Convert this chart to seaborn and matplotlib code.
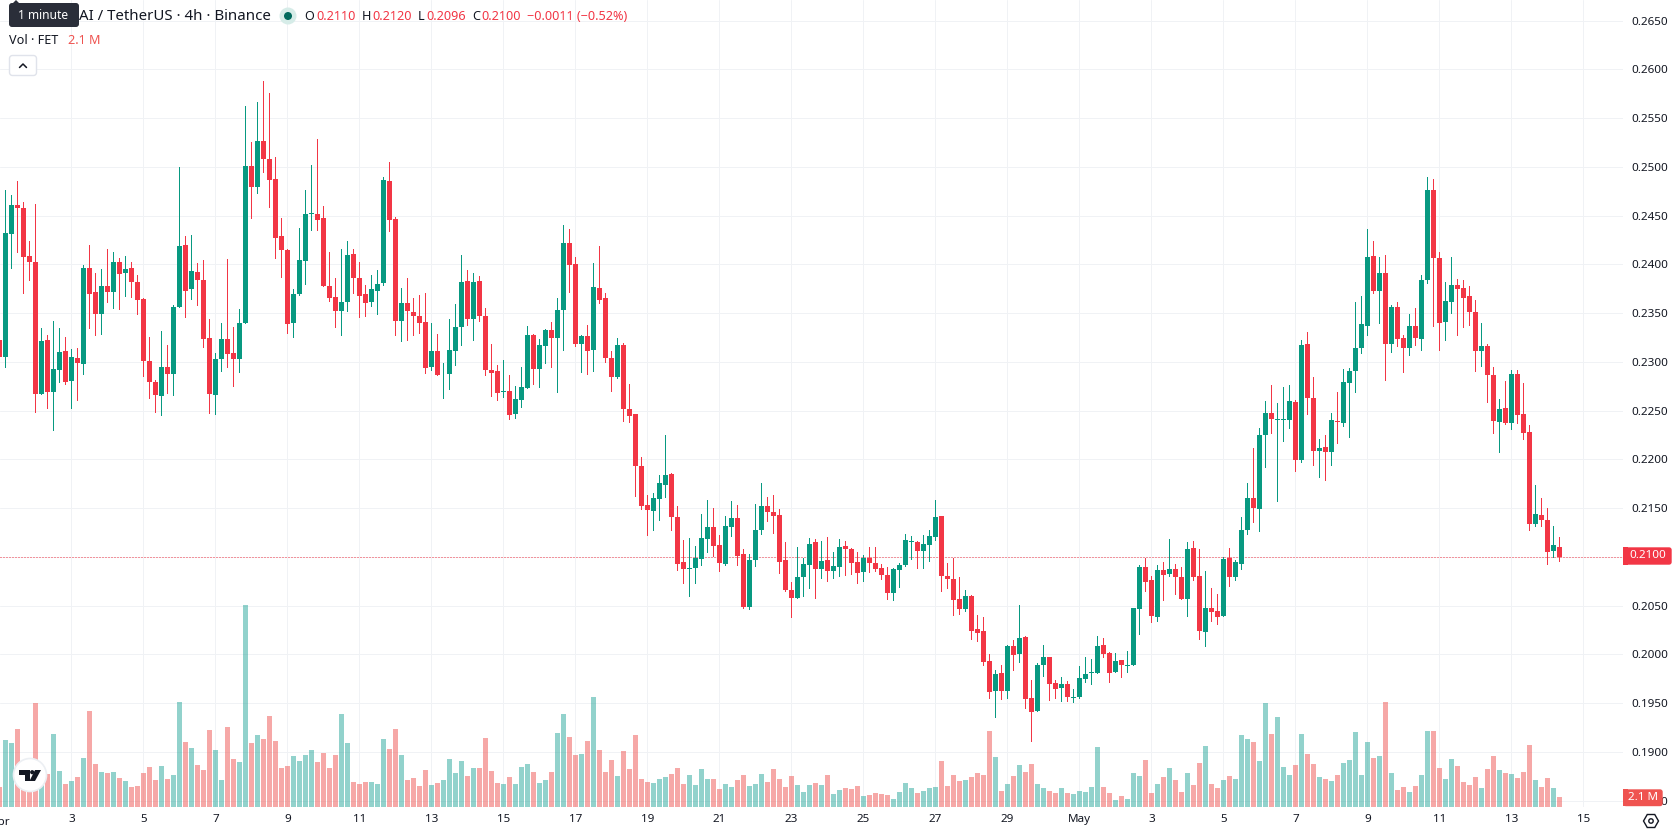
import matplotlib
matplotlib.use("Agg")
import matplotlib.pyplot as plt
from matplotlib.patches import Circle, FancyBboxPatch, Polygon, Rectangle, RegularPolygon
import numpy as np
import pandas as pd
import seaborn as sns

# FET/USDT 4h candles, quoted in ticks of 0.0001
open_ticks = [
    2322,2305,2431,2461,2458,2409,2402,2267,2322,2269,
    2292,2311,2280,2304,2298,2396,2372,2349,2378,2372,
    2402,2391,2396,2382,2364,2301,2279,2265,2295,2288,
    2356,2420,2375,2392,2384,2324,2266,2303,2323,2309,
    2303,2340,2501,2479,2526,2508,2488,2429,2415,2340,
    2370,2403,2452,2452,2447,2378,2366,2352,2361,2411,
    2386,2370,2361,2373,2381,2485,2446,2342,2360,2351,
    2347,2341,2295,2311,2287,2287,2311,2336,2383,2344,
    2383,2347,2292,2291,2269,2270,2246,2261,2273,2327,
    2293,2316,2333,2324,2353,2422,2400,2318,2326,2312,
    2376,2365,2304,2284,2317,2252,2246,2193,2153,2147,
    2159,2174,2185,2141,2095,2088,2089,2098,2118,2131,
    2112,2093,2131,2140,2103,2049,2097,2127,2152,2146,
    2143,2097,2066,2058,2079,2092,2115,2087,2097,2085,
    2090,2111,2108,2095,2084,2099,2094,2089,2081,2063,
    2086,2092,2115,2115,2106,2112,2120,2142,2080,2077,
    2057,2046,2060,2026,2024,1993,1962,1981,1962,2009,
    2000,2018,1955,1942,1989,1997,1971,1965,1970,1955,
    1956,1975,1981,1981,2010,2001,1982,1994,1988,1989,
    2046,2090,2076,2038,2086,2082,2087,2079,2057,2109,
    2080,2023,2048,2044,2039,2099,2079,2093,2127,2160,
    2149,2225,2248,2240,2240,2240,2259,2199,2318,2263,
    2209,2213,2208,2239,2237,2278,2291,2314,2337,2409,
    2373,2391,2318,2356,2324,2314,2337,2323,2384,2476,
    2406,2341,2361,2379,2376,2367,2351,2311,2316,2286,
    2238,2253,2237,2288,2246,2228,2134,2143,2138,2106,
    2110,
]
high_ticks = [
    2330,2476,2471,2485,2464,2424,2462,2335,2327,2342,
    2335,2325,2313,2314,2399,2420,2391,2395,2416,2413,
    2406,2409,2402,2389,2365,2325,2281,2332,2317,2358,
    2500,2429,2430,2401,2404,2344,2309,2340,2405,2336,
    2354,2562,2525,2566,2588,2576,2510,2447,2416,2375,
    2437,2476,2502,2529,2460,2413,2386,2416,2424,2416,
    2402,2379,2389,2394,2490,2505,2449,2376,2386,2365,
    2369,2371,2340,2329,2299,2344,2359,2410,2394,2391,
    2388,2355,2318,2297,2302,2286,2275,2295,2337,2329,
    2323,2334,2341,2365,2440,2436,2408,2327,2338,2401,
    2419,2371,2311,2324,2319,2277,2246,2202,2163,2165,
    2184,2225,2186,2152,2117,2119,2111,2144,2158,2150,
    2122,2142,2157,2153,2108,2103,2154,2176,2161,2163,
    2149,2115,2074,2110,2099,2119,2118,2116,2120,2105,
    2118,2116,2109,2105,2102,2110,2110,2093,2090,2089,
    2094,2123,2121,2116,2122,2127,2158,2142,2094,2099,
    2079,2066,2061,2040,2038,2000,1984,1989,2010,2015,
    2051,2019,1974,1991,2010,1997,1974,1977,1973,1964,
    1988,1997,1995,2019,2017,2002,2001,1994,2003,2048,
    2092,2099,2080,2092,2095,2118,2093,2090,2115,2116,
    2108,2085,2068,2062,2100,2109,2097,2141,2176,2212,
    2232,2260,2276,2258,2274,2276,2261,2322,2331,2284,
    2221,2225,2247,2269,2293,2294,2361,2368,2436,2424,
    2408,2410,2358,2361,2328,2349,2355,2389,2490,2487,
    2413,2382,2407,2385,2384,2378,2363,2340,2318,2295,
    2262,2280,2292,2292,2278,2235,2174,2160,2150,2132,
    2120,
]
low_ticks = [
    2298,2295,2396,2413,2371,2384,2249,2267,2253,2230,
    2279,2277,2253,2261,2287,2335,2327,2329,2361,2355,
    2354,2367,2366,2349,2285,2263,2249,2245,2268,2266,
    2356,2346,2364,2358,2315,2247,2246,2291,2295,2275,
    2290,2340,2447,2473,2495,2459,2406,2387,2330,2325,
    2369,2380,2435,2435,2378,2362,2336,2327,2352,2371,
    2346,2347,2357,2349,2379,2434,2327,2321,2322,2328,
    2330,2289,2292,2286,2263,2272,2297,2317,2338,2322,
    2342,2286,2265,2261,2264,2241,2242,2254,2273,2277,
    2274,2299,2295,2269,2312,2372,2316,2290,2288,2291,
    2360,2300,2270,2283,2239,2238,2162,2149,2122,2127,
    2138,2161,2128,2086,2073,2060,2073,2092,2105,2101,
    2085,2092,2121,2092,2047,2046,2091,2123,2137,2124,
    2083,2065,2038,2058,2060,2068,2058,2078,2075,2078,
    2080,2081,2082,2073,2075,2084,2085,2077,2057,2056,
    2069,2091,2098,2089,2089,2096,2117,2065,2068,2040,
    2041,2044,2016,2014,1989,1955,1936,1954,1955,1984,
    1992,1945,1911,1942,1978,1953,1955,1952,1952,1951,
    1955,1972,1970,1981,1997,1972,1982,1977,1982,1989,
    2021,2065,2033,2034,2056,2080,2062,2057,2039,2076,
    2016,2009,2034,2031,2039,2070,2076,2087,2123,2136,
    2126,2192,2227,2157,2219,2232,2188,2197,2246,2194,
    2182,2179,2194,2217,2234,2223,2269,2309,2327,2371,
    2340,2281,2310,2316,2290,2307,2317,2312,2381,2337,
    2312,2322,2350,2327,2336,2338,2291,2296,2259,2227,
    2207,2236,2231,2237,2221,2128,2132,2132,2093,2100,
    2096,
]
close_ticks = [
    2305,2432,2461,2458,2408,2402,2267,2321,2269,2293,
    2310,2279,2305,2299,2396,2370,2349,2378,2372,2402,
    2390,2395,2382,2363,2301,2279,2266,2295,2288,2356,
    2419,2373,2393,2384,2323,2267,2303,2323,2308,2303,
    2340,2501,2479,2526,2508,2486,2427,2415,2339,2370,
    2404,2452,2453,2445,2378,2365,2352,2361,2410,2386,
    2368,2360,2375,2380,2486,2445,2342,2360,2352,2347,
    2340,2294,2311,2286,2288,2312,2336,2382,2344,2382,
    2347,2292,2289,2268,2270,2245,2262,2274,2327,2293,
    2317,2333,2324,2353,2422,2399,2318,2326,2311,2377,
    2363,2304,2284,2317,2252,2244,2193,2152,2148,2160,
    2176,2184,2141,2093,2088,2089,2099,2119,2131,2111,
    2094,2132,2140,2101,2049,2097,2128,2152,2146,2142,
    2095,2066,2058,2079,2093,2113,2087,2096,2085,2091,
    2110,2108,2094,2083,2099,2094,2088,2081,2063,2088,
    2092,2117,2116,2106,2113,2121,2141,2080,2077,2056,
    2046,2060,2024,2022,1992,1961,1980,1962,2009,1999,
    2017,1954,1941,1989,1997,1970,1964,1970,1956,1956,
    1976,1980,1982,2009,2000,1981,1993,1989,1989,2047,
    2090,2074,2039,2086,2081,2087,2079,2057,2108,2079,
    2024,2048,2043,2038,2098,2079,2095,2127,2160,2150,
    2225,2248,2241,2241,2241,2260,2199,2317,2263,2209,
    2212,2207,2240,2238,2279,2291,2314,2339,2408,2373,
    2391,2318,2356,2323,2314,2337,2324,2384,2476,2406,
    2340,2362,2379,2375,2365,2351,2311,2316,2286,2239,
    2252,2237,2288,2245,2227,2134,2144,2138,2105,2112,
    2100,
]
# Traded volume per candle, in millions of FET
volume_m = [
    4.2,14.1,13.4,16.4,5.6,4.9,21.8,5.6,6.9,15.3,
    7.6,4.8,5.5,6.3,10.3,20.2,9.0,7.4,7.1,7.4,
    6.1,5.5,4.2,4.4,7.1,8.4,5.7,8.6,5.9,6.7,
    22.1,13.7,12.4,8.8,7.8,16.2,12.0,5.7,16.8,10.1,
    9.5,42.4,13.4,15.1,14.3,19.1,13.9,8.2,8.6,10.7,
    9.7,10.9,12.0,9.5,11.3,8.2,10.9,19.5,13.4,5.3,
    4.8,5.3,5.3,4.8,14.3,12.2,16.4,10.9,5.7,6.1,
    4.4,7.8,4.6,5.0,5.7,10.1,7.1,9.7,6.5,8.2,
    8.2,14.5,7.6,5.0,4.8,6.3,4.8,8.4,9.0,7.4,
    5.0,5.7,7.4,15.5,19.5,14.7,10.9,11.1,13.9,23.1,
    12.0,7.4,9.9,6.5,11.8,8.0,15.1,5.9,5.3,5.0,
    5.9,6.3,6.9,8.2,4.8,6.7,4.6,8.0,5.9,5.9,
    3.8,4.8,4.2,5.7,6.7,4.4,4.8,6.9,5.3,8.0,
    5.9,4.2,6.5,4.6,3.2,4.6,5.0,4.6,6.7,2.7,
    3.6,4.0,3.8,4.4,2.3,2.5,2.9,2.7,2.5,1.7,
    3.2,5.0,4.0,2.9,3.4,4.0,4.2,9.7,4.4,6.7,
    5.5,5.7,6.3,7.1,6.7,16.0,10.5,3.4,4.8,6.5,
    8.8,7.4,9.0,4.8,4.0,3.4,2.9,4.0,2.9,2.7,
    3.4,3.2,4.2,12.6,4.2,2.9,1.5,2.3,1.7,7.1,
    6.5,9.9,2.9,4.8,6.3,8.2,5.7,3.2,7.1,4.6,
    9.2,12.8,4.8,4.0,5.7,6.5,5.9,15.1,14.3,13.7,
    9.7,21.8,15.3,18.9,8.4,6.7,8.8,15.3,11.1,9.0,
    6.3,5.9,5.5,6.7,9.2,9.9,15.8,6.7,13.7,10.3,
    10.7,22.1,7.1,3.6,4.2,3.2,4.4,6.7,16.0,16.0,
    8.2,5.9,10.1,8.6,5.3,4.6,6.3,4.0,8.0,10.7,
    7.8,7.1,6.9,6.1,7.4,13.0,5.7,4.2,6.1,4.0,
    2.1,
]
# Date axis: one label every 12 candles (two days), starting at 3 April
date_tick_candles = [12, 24, 36, 48, 60, 72, 84, 96, 108, 120, 132, 144, 156, 168,
                     180, 192, 204, 216, 228, 240, 252, 264]
date_tick_labels = ["3", "5", "7", "9", "11", "13", "15", "17", "19", "21", "23", "25",
                    "27", "29", "May", "3", "5", "7", "9", "11", "13", "15"]
price_ticks = [0.2650, 0.2600, 0.2550, 0.2500, 0.2450, 0.2400, 0.2350, 0.2300, 0.2250,
               0.2200, 0.2150, 0.2100, 0.2050, 0.2000, 0.1950, 0.1900, 0.1850]
last_price = 0.2100

TICK = 0.0001
UP, DOWN = "#089981", "#f23645"
VOL_UP, VOL_DOWN = "#26a69a", "#ef5350"
GRID = "#f0f2f5"
INK = "#131722"

sns.set_theme(style="white")
plt.rcParams["font.family"] = ["Noto Sans", "DejaVu Sans"]

candles = pd.DataFrame({
    "candle": np.arange(len(open_ticks)),
    "open": np.array(open_ticks) * TICK,
    "high": np.array(high_ticks) * TICK,
    "low": np.array(low_ticks) * TICK,
    "close": np.array(close_ticks) * TICK,
    "volume": volume_m,
})
candles["rising"] = candles["close"] >= candles["open"]
candle_colors = np.where(candles["rising"], UP, DOWN)

W, H = 1678, 835
PANE_RIGHT, PANE_BOTTOM = 1623, 807
fig = plt.figure(figsize=(W / 100, H / 100), dpi=100, facecolor="white")
pane = [0, (H - PANE_BOTTOM) / H, PANE_RIGHT / W, PANE_BOTTOM / H]

# Price pane: grid, ticks and candles
ax = fig.add_axes(pane, zorder=1)
ax.set_facecolor("white")
ax.set_xlim(0.1, 270.6)
ax.set_ylim(0.18434, 0.26711)
ax.set_axisbelow(True)
ax.grid(True, color=GRID, lw=0.72)
for side in ax.spines.values():
    side.set_visible(False)
ax.yaxis.tick_right()
ax.set_yticks(price_ticks)
ax.set_yticklabels([f"{p:.4f}" for p in price_ticks], fontsize=8.4, color=INK)
ax.set_xticks(date_tick_candles)
labels = ax.set_xticklabels(date_tick_labels, fontsize=8.4, color=INK)
labels[date_tick_labels.index("May")].set_fontweight("bold")
ax.tick_params(axis="both", length=0)
ax.tick_params(axis="y", pad=6.2)
ax.tick_params(axis="x", pad=5.2)

# Dotted marker for the last traded price, one pixel on and two off
ax.axhline(last_price, color=DOWN, lw=0.72, ls=(0, (1, 2)), zorder=1.5, snap=True)
ax.vlines(candles["candle"], candles["low"], candles["high"], colors=candle_colors,
          lw=0.72, zorder=2, antialiased=False)
ax.bar(candles["candle"], (candles["close"] - candles["open"]).abs(),
       bottom=candles[["open", "close"]].min(axis=1), width=0.82, color=candle_colors,
       linewidth=0, zorder=3, antialiased=False)

# Volume pane shares the box; the scale keeps the largest bar a quarter of the height
ax_vol = fig.add_axes(pane, zorder=2)
ax_vol.patch.set_alpha(0)
sns.barplot(data=candles, x="candle", y="volume", hue="rising", dodge=False, native_scale=True,
            palette={True: VOL_UP, False: VOL_DOWN}, alpha=0.5, saturation=1, width=0.82,
            errorbar=None, legend=False, linewidth=0, ax=ax_vol)
ax_vol.set_xlim(0.1, 270.6)
ax_vol.set_ylim(0, PANE_BOTTOM * 0.21)
ax_vol.axis("off")

# Chart furniture, laid out in canvas pixels
ui = fig.add_axes([0, 0, 1, 1], zorder=5)
ui.set_xlim(0, W)
ui.set_ylim(H, 0)
ui.axis("off")
ui.patch.set_alpha(0)


def label(x, y, text, color=INK, size=8.4, ha="left", **kw):
    ui.text(x, y, text, color=color, fontsize=size, ha=ha, va="center", **kw)


label(-0.6, 822, "Apr", ha="center", fontweight="bold", clip_on=True)

# Last price and last volume tags on the price scale
ui.add_patch(FancyBboxPatch((1624, 548), 47, 16, boxstyle="round,pad=0,rounding_size=2",
                            fc=DOWN, ec=DOWN, lw=1))
ui.add_patch(Rectangle((1623, 547), 5, 18, fc=DOWN, ec="none"))
label(1647.5, 555.6, "0.2100", color="white", ha="center")
ui.add_patch(FancyBboxPatch((1624, 790), 38, 15.5, boxstyle="round,pad=0,rounding_size=2",
                            fc=VOL_DOWN, ec=VOL_DOWN, lw=1))
ui.add_patch(Rectangle((1623, 789), 5, 17, fc=VOL_DOWN, ec="none"))
label(1643, 797.3, "2.1 M", color="white", ha="center")

# Settings button
ui.add_patch(RegularPolygon((1651, 821), 6, radius=7.5, orientation=np.pi / 2,
                            fc="none", ec=INK, lw=1))
ui.add_patch(Circle((1651, 821), 2.2, fc="none", ec=INK, lw=1))

# Header lines
label(79, 16.5, "AI / TetherUS · 4h · Binance", size=10.8)
ui.add_patch(Circle((288, 16), 8.5, fc="#d6ece8", ec="none"))
ui.add_patch(Circle((288, 16), 4, fc="#00695c", ec="none"))
for x, text, color in [(304.5, "O", INK), (316, "0.2110", DOWN), (362, "H", INK),
                       (372, "0.2120", DOWN), (418, "L", INK), (426, "0.2096", DOWN),
                       (472, "C", INK), (481, "0.2100", DOWN),
                       (527, "−0.0011 (−0.52%)", DOWN)]:
    label(x, 16.5, text, color=color, size=9.1)
label(9, 41, "Vol · FET", size=9.1)
label(68, 41, "2.1 M", color=VOL_DOWN, size=9.1)
ui.add_patch(FancyBboxPatch((9.5, 55.5), 27, 20, boxstyle="round,pad=0,rounding_size=3",
                            fc="white", ec="#e0e3eb", lw=1))
ui.plot([19.5, 23, 26.5], [67.5, 64, 67.5], color=INK, lw=1.1, solid_capstyle="round")

# Tooltip over the header
ui.add_patch(FancyBboxPatch((9, 3), 70, 24, boxstyle="round,pad=0,rounding_size=3",
                            fc="#2a2e39", ec="none"))
ui.add_patch(Polygon([(12, 4), (16, 0), (20, 4)], fc="#2a2e39", ec="none"))
label(43.5, 15.5, "1 minute", color="white", ha="center", size=8.6)

# Watermark badge
ui.add_patch(Circle((30, 775), 16.5, fc="white", ec="#eceff3", lw=1.2))
ui.add_patch(Polygon([(19, 770), (30, 770), (30, 781), (24.5, 781), (24.5, 775), (19, 775)],
                     fc="#131722", ec="none"))
ui.add_patch(Circle((32.2, 772.2), 2.1, fc="#131722", ec="none"))
ui.add_patch(Polygon([(35, 770), (41, 770), (35, 781), (29.5, 781)], fc="#131722", ec="none"))

fig.savefig("out.png", dpi=100, facecolor="white")
